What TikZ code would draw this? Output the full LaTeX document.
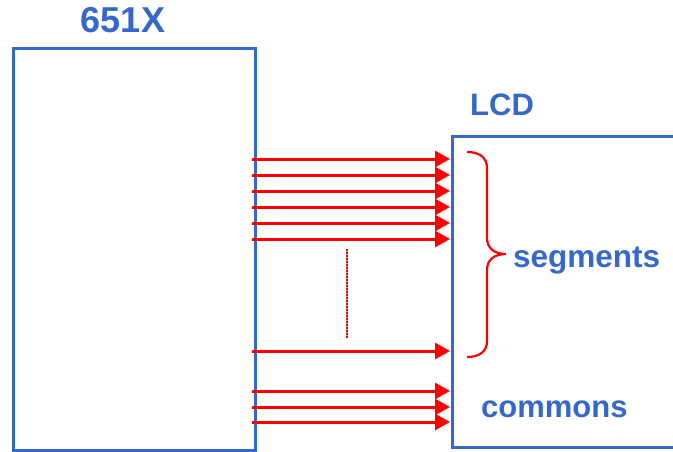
\documentclass[tikz,border=0pt]{standalone}
\usepackage{fontspec}
\setmainfont{Liberation Sans}
\usetikzlibrary{arrows.meta,calc}
\definecolor{bl}{RGB}{54,104,204}
\definecolor{rd}{RGB}{255,0,0}
\begin{document}
\begin{tikzpicture}[x=1pt,y=-1pt,
  box/.style={draw=bl,line width=3pt,inner sep=0pt},
  lbl/.style={text=bl,font=\bfseries,inner sep=0pt},
  sig/.style={draw=rd,line width=3pt,-{Triangle[length=15pt,width=16pt]}}]
\useasboundingbox (0,0) rectangle (673,452);
\begin{scope}
\clip (0,0) rectangle (673,452);
\node[box,minimum width=242pt,minimum height=402pt,anchor=north west] (chip) at (12,47) {};
\node[box,minimum width=260pt,minimum height=311pt,anchor=north west] (lcd) at (451,135) {};
\end{scope}
\node[lbl,font=\bfseries\fontsize{36}{36}\selectfont,anchor=base] (chipname) at (123,33) {651X};
\node[lbl,font=\bfseries\fontsize{31}{31}\selectfont,anchor=base west] (lcdname) at (470,116) {LCD};
\node[lbl,font=\bfseries\fontsize{31.5}{31.5}\selectfont,anchor=base west] (seg) at (513,267) {segments};
\node[lbl,font=\bfseries\fontsize{31}{31}\selectfont,anchor=base west] (com) at (481,417) {commons};
\foreach \y [count=\i] in {159,175,191,207,223,239,351,391,407,422}{
  \coordinate (s\i) at (252,\y);
  \coordinate (t\i) at (450,\y);
  \draw[sig] (s\i) -- (t\i);
}
\coordinate (d1) at (347,249);
\coordinate (d2) at (347,338);
\draw[draw=gray!70,line width=2pt] (d1) -- (d2);
\draw[draw=rd,line width=2pt,dash pattern=on 1.5pt off 1.5pt] (d1) -- (d2);
\coordinate (b1) at (467,152);
\coordinate (b2) at (467,357);
\coordinate (bt) at (506,254);
\draw[rd,line width=2.2pt]
  (b1) .. controls (480,152) and (487,158) .. (487,168)
  -- (487,238) .. controls (487,248) and (494,254) .. (bt)
  .. controls (494,254) and (487,260) .. (487,270)
  -- (487,341) .. controls (487,351) and (480,357) .. (b2);
\end{tikzpicture}
\end{document}
